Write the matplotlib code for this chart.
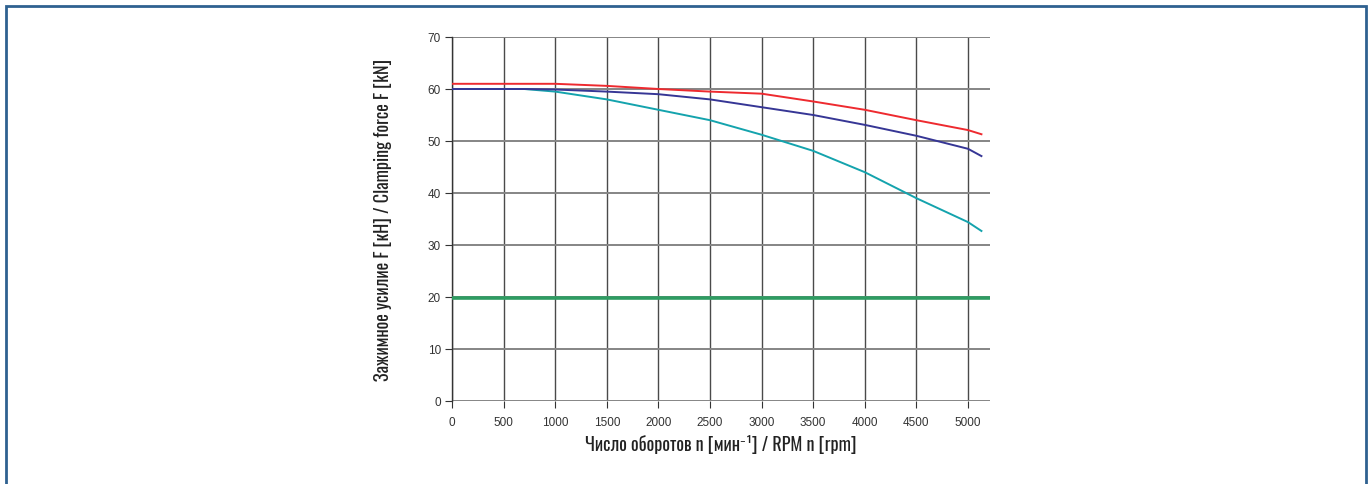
import matplotlib
matplotlib.use("Agg")
import matplotlib.pyplot as plt
from matplotlib.patches import Rectangle

# Clamping force vs. spindle speed
rpm = [0, 500, 700, 1000, 1500, 2000, 2500, 3000, 3500, 4000, 4500, 5000, 5130]
force_red = [61.0, 61.0, 61.0, 61.0, 60.6, 60.0, 59.5, 59.1, 57.6, 56.0, 54.0, 52.1, 51.3]
force_blue = [60.0, 60.0, 60.0, 59.9, 59.5, 59.0, 58.0, 56.5, 55.0, 53.1, 51.0, 48.5, 47.1]
force_cyan = [60.0, 60.0, 60.0, 59.5, 58.0, 56.0, 54.0, 51.2, 48.1, 44.0, 39.0, 34.4, 32.7]
min_rpm_span = [0, 5213]
min_force = [19.8, 19.8]

xticks = [0, 500, 1000, 1500, 2000, 2500, 3000, 3500, 4000, 4500, 5000]
yticks = [0, 10, 20, 30, 40, 50, 60, 70]

W, H = 1368, 485
fig = plt.figure(figsize=(W / 100, H / 100), dpi=100)
fig.patch.set_facecolor("white")

# frame around the whole figure (bottom edge runs off the page)
fig.patches.append(Rectangle((6 / W, -0.05), (1366 - 6) / W, 1 - 7 / H + 0.05,
                             transform=fig.transFigure, fill=False,
                             edgecolor="#2f6190", linewidth=2.0, zorder=0))

ax = fig.add_axes([452 / W, 1 - 402 / H, (990 - 452) / W, (402 - 38) / H])
ax.set_xlim(0, 5213)
ax.set_ylim(0, 70)

for x in xticks:
    ax.axvline(x, color="#4a4a4a", linewidth=1.0, zorder=1)
for y in yticks:
    ax.axhline(y, color="#858585", linewidth=1.4, zorder=1)

ax.plot(min_rpm_span, min_force, color="#2e9c62", linewidth=2.6, zorder=3)
ax.plot(rpm, force_cyan, color="#14a3ad", linewidth=1.4, zorder=4)
ax.plot(rpm, force_blue, color="#363695", linewidth=1.4, zorder=4)
ax.plot(rpm, force_red, color="#ee2a2f", linewidth=1.4, zorder=5)

for side in ("top", "right", "bottom"):
    ax.spines[side].set_visible(False)
ax.spines["left"].set_color("#333333")
ax.spines["left"].set_linewidth(1.0)

ax.set_xticks(xticks)
ax.set_yticks(yticks)
ax.tick_params(axis="both", direction="out", length=5, width=0.8, color="#333333",
               labelsize=8.5, labelcolor="#333333")
ax.tick_params(axis="x", pad=6)
ax.tick_params(axis="y", pad=3)
for lab in ax.get_xticklabels() + ax.get_yticklabels():
    lab.set_family(["Liberation Sans", "DejaVu Sans"])

label_font = dict(family=["Oswald", "Roboto Condensed", "DejaVu Sans"], weight="light",
                  size=13, color="#222222")
ax.set_xlabel("Число оборотов n [мин⁻¹] / RPM n [rpm]", labelpad=4, **label_font)
ax.set_ylabel("Зажимное усилие F [кН] / Clamping force F [kN]", labelpad=26, **label_font)

fig.savefig("out.png", dpi=100, facecolor="white")
